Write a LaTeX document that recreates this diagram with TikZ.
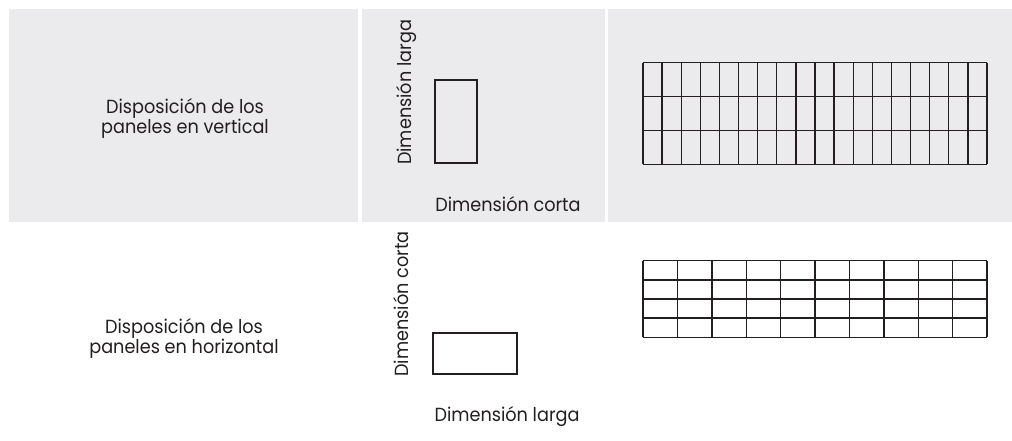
\documentclass[tikz,border=0pt]{standalone}
\usepackage{fontspec}
\setmainfont{Poppins}[FakeStretch=0.93]
\definecolor{panelgray}{RGB}{235,235,237}
\definecolor{ink}{RGB}{35,31,32}
\begin{document}
\begin{tikzpicture}[x=1pt,y=-1pt,
  panel/.style={fill=panelgray,draw=none},
  lbl/.style={inner sep=0pt,anchor=base,text=ink,font=\fontsize{19}{22}\selectfont},
  gridline/.style={draw=ink,line width=1.4pt},
  panelbox/.style={draw=ink,line width=2pt}]
\useasboundingbox (0,0) rectangle (1012,441);
% panels
\fill[panel] (9,9) rectangle (358,222);
\fill[panel] (362,9.5) rectangle (605,222);
\fill[panel] (608,9) rectangle (1012,222);
% left labels
\node[lbl] (v1) at (185,113.5) {Disposición de los};
\node[lbl] (v2) at (185,133.5) {paneles en vertical};
\node[lbl] (h1) at (184,333) {Disposición de los};
\node[lbl] (h2) at (184,353) {paneles en horizontal};
% dimension labels
\node[lbl,rotate=90] (dl1) at (411.5,92.5) {Dimensión larga};
\node[lbl] (dc1) at (508,211.5) {Dimensión corta};
\node[lbl,rotate=90] (dc2) at (408.5,304) {Dimensión corta};
\node[lbl] (dl2) at (507,421.5) {Dimensión larga};
% single panels
\draw[panelbox] (435,80) rectangle (477,163);
\draw[panelbox] (433,333) rectangle (517,374);
% vertical grid: 18 x 3
\foreach \i in {0,...,18} \draw[gridline] ({643+\i*344/18},62.7) -- ({643+\i*344/18},164.3);
\foreach \j in {0,...,3} \draw[gridline] (643,{62.7+\j*101.6/3}) -- (987,{62.7+\j*101.6/3});
% horizontal grid: 10 x 4
\foreach \i in {0,...,10} \draw[gridline] ({643+\i*34.4},260.7) -- ({643+\i*34.4},337.3);
\foreach \j in {0,...,4} \draw[gridline] (643,{260.7+\j*19.15}) -- (987,{260.7+\j*19.15});
\end{tikzpicture}
\end{document}
